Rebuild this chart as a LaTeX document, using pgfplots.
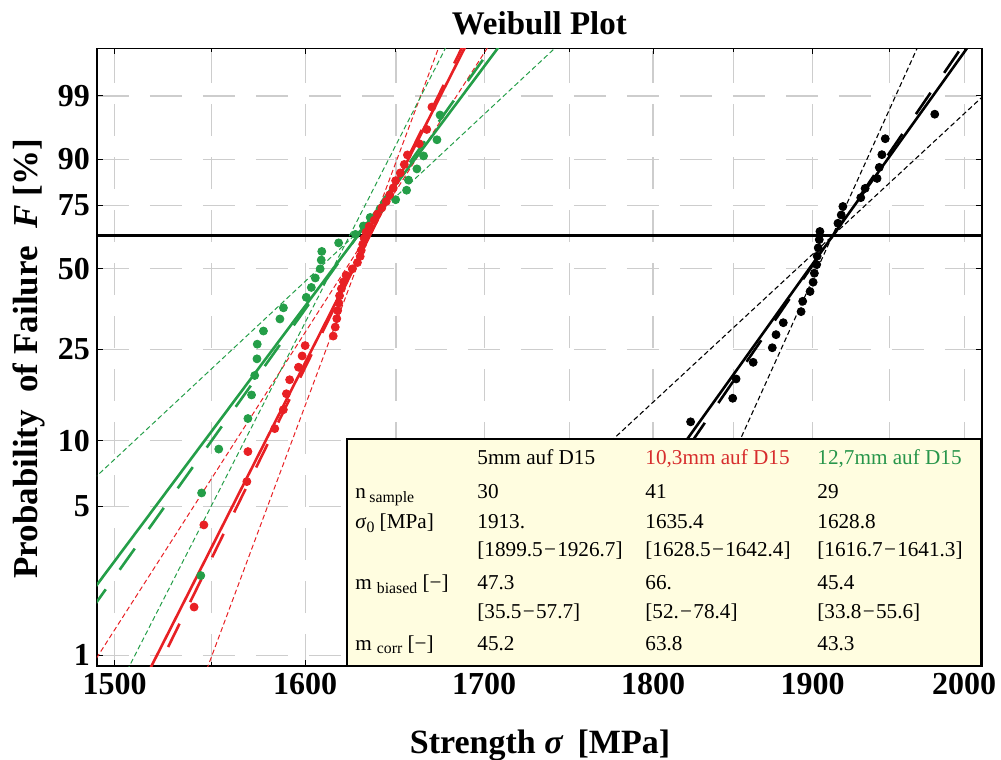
\documentclass[border=0pt]{standalone}
\usepackage{fontspec}
\setmainfont{Liberation Serif}
\usepackage{pgfplots}
\pgfplotsset{compat=1.18}
\usepackage{pgfplotstable}
\definecolor{wred}{RGB}{232,32,36}
\definecolor{wgreen}{RGB}{36,158,72}
\definecolor{tred}{RGB}{215,45,45}
\definecolor{tgreen}{RGB}{40,150,75}
\definecolor{tbg}{RGB}{255,253,224}
\definecolor{gridgray}{RGB}{205,205,205}

% strength [MPa], failure probability F [%]
\pgfplotstableread{
s F
1823.2 12.17
1849.4 15.46
1851.4 18.75
1862.3 22.04
1874.3 25.33
1876.6 28.62
1881.3 31.91
1892.8 35.20
1893.7 38.49
1898.4 41.78
1900.5 45.07
1901.1 48.36
1902.7 51.64
1903.1 54.93
1903.7 58.22
1904.4 61.51
1904.8 64.80
1916.5 68.09
1918.6 71.38
1919.5 74.67
1931.2 77.96
1934.1 81.25
1942.1 84.54
1943.4 87.83
1945.0 91.12
1947.2 94.41
1980.4 97.70
}\blackdata

\pgfplotstableread{
s F
1540.9 1.69
1546.1 4.11
1568.7 6.52
1569.3 8.94
1583.6 11.35
1588.2 13.77
1589.8 16.18
1591.6 18.60
1596.4 21.01
1598.3 23.43
1600.0 25.85
1615.3 28.26
1616.4 30.68
1617.2 33.09
1617.7 35.51
1618.3 37.92
1618.8 40.34
1619.7 42.75
1620.9 45.17
1622.4 47.58
1625.7 50.00
1628.5 52.42
1630.1 54.83
1630.7 57.25
1631.5 59.66
1632.3 62.08
1633.4 64.49
1635.1 66.91
1637.9 69.32
1639.5 71.74
1642.1 74.15
1644.5 76.57
1646.5 78.99
1648.4 81.40
1649.8 83.82
1652.3 86.23
1654.6 88.65
1656.4 91.06
1663.0 93.48
1667.2 95.89
1670.2 98.31
}\reddata

\pgfplotstableread{
s F
1544.4 2.38
1544.9 5.78
1553.9 9.18
1569.3 12.59
1571.3 15.99
1572.9 19.39
1574.1 22.79
1574.2 26.19
1577.6 29.59
1586.4 32.99
1588.3 36.39
1600.6 39.80
1603.3 43.20
1605.5 46.60
1608.2 50.00
1608.7 53.40
1609.0 56.80
1618.2 60.20
1627.4 63.61
1631.9 67.01
1635.6 70.41
1641.2 73.81
1649.8 77.21
1655.9 80.61
1657.0 84.01
1661.7 87.41
1665.4 90.82
1673.0 94.22
1674.9 97.62
}\greendata

\newcommand{\tfont}{\fontsize{10.6}{12.5}\selectfont}
\newcommand{\sfont}{\fontsize{7.9}{9}\selectfont}
\newcommand{\dsh}{\hspace{0.06em}−\hspace{0.06em}}

\begin{document}
\begin{tikzpicture}
\useasboundingbox (-48.35pt,-47pt) rectangle (452.15pt,333pt);
\begin{axis}[
  name=ax,
  at={(0,0)}, anchor=south west,
  width=442.5pt, height=308.85pt, scale only axis,
  xmode=log,
  xmin=1491.1, xmax=2012.0,
  ymin=-4.716, ymax=2.0495,
  xtick={1500,1600,1700,1800,1900,2000},
  xticklabels={1500,1600,1700,1800,1900,2000},
  minor xtick={1550,1650,1750,1850,1950},
  ytick={-4.6002,-2.9702,-2.2504,-1.2459,-0.3665,0.3266,0.8340,1.5272},
  yticklabels={1,5,10,25,50,75,90,99},
  xmajorgrids, xminorgrids, ymajorgrids,
  grid style={gridgray, line width=0.6pt, dash pattern=on 16pt off 10.5pt},
  minor grid style={gridgray, line width=0.6pt, dash pattern=on 16pt off 10.5pt},
  tick align=inside,
  major tick length=3pt, minor tick length=2pt,
  tick style={black, line width=0.5pt},
  axis line style={line width=0.6pt},
  ticklabel style={font=\fontsize{16}{18}\selectfont\bfseries},
  /pgf/number format/assume math mode=true,
  clip=true,
]
% 63.2 % line
\addplot[black, line width=1.65pt] coordinates {(1480,0) (2020,0)};

% confidence bounds (thin dashed)
\addplot[black, line width=0.55pt, dash pattern=on 2.5pt off 1.5pt] coordinates {(1783.8,-5) (1975.5,2.3)};
\addplot[black, line width=0.55pt, dash pattern=on 2.5pt off 1.5pt] coordinates {(1619.3,-5) (2065.4,2.3)};
\addplot[wred, line width=0.5pt, dash pattern=on 2.5pt off 1.5pt] coordinates {(1543.2,-5) (1678.7,2.3)};
\addplot[wred, line width=0.5pt, dash pattern=on 2.5pt off 1.5pt] coordinates {(1480.0,-5) (1710.1,2.3)};
\addplot[wgreen, line width=0.5pt, dash pattern=on 2.5pt off 1.5pt] coordinates {(1378.7,-5) (1755.6,2.3)};
\addplot[wgreen, line width=0.5pt, dash pattern=on 2.5pt off 1.5pt] coordinates {(1500.8,-5) (1684.5,2.3)};

% biased fits (long dashed)
\addplot[black, line width=1.3pt, dash pattern=on 13pt off 12pt] coordinates {(1721.1,-5) (2008.3,2.3)};
\addplot[wred, line width=1.3pt, dash pattern=on 13pt off 12pt] coordinates {(1516.1,-5) (1693.4,2.3)};
\addplot[wgreen, line width=1.3pt, dash pattern=on 13pt off 12pt] coordinates {(1459.0,-5) (1713.4,2.3)};

% corrected fits (solid)
\addplot[black, line width=1.3pt] coordinates {(1712.7,-5) (2012.9,2.3)};
\addplot[wred, line width=1.3pt] coordinates {(1512.1,-5) (1695.4,2.3)};
\addplot[wgreen, line width=1.3pt] coordinates {(1451.2,-5) (1717.7,2.3)};

% data points
\addplot[only marks, mark=*, mark size=2pt, black] table[x=s, y expr={ln(-ln(1-\thisrow{F}/100))}] {\blackdata};
\addplot[only marks, mark=*, mark size=2pt, wgreen] table[x=s, y expr={ln(-ln(1-\thisrow{F}/100))}] {\greendata};
\addplot[only marks, mark=*, mark size=2pt, wred] table[x=s, y expr={ln(-ln(1-\thisrow{F}/100))}] {\reddata};
\end{axis}

% titles and labels
\node[font=\fontsize{16.5}{19}\selectfont\bfseries, anchor=base] at (221.3pt,315.5pt) {Weibull Plot};
\node[font=\fontsize{17}{20}\selectfont\bfseries, anchor=base] at (221.65pt,-43.5pt) {Strength \textit{σ}\, [MPa]};
\node[font=\fontsize{17.5}{20}\selectfont\bfseries, rotate=90, anchor=base] at (-29.35pt,153.75pt) {Probability\ \ of Failure\ \ \textit{F} [\%]};

% parameter table
\fill[tbg] (125.15pt,0pt) rectangle (442.5pt,113.5pt);
\draw[line width=1.4pt] (125.15pt,0pt) rectangle (442.5pt,113.5pt);
\begin{scope}[every node/.style={anchor=base west, inner sep=0pt, font=\tfont}]
\node at (190.15pt,100.5pt) {5mm auf D15};
\node[text=tred] at (274.15pt,100.5pt) {10,3mm auf D15};
\node[text=tgreen] at (360.15pt,100.5pt) {12,7mm auf D15};

\node at (129.15pt,83.85pt) {n\hspace{1.7pt}\raisebox{-2pt}{\sfont sample}};
\node at (190.15pt,83.85pt) {30};
\node at (274.15pt,83.85pt) {41};
\node at (360.15pt,83.85pt) {29};

\node at (129.15pt,68.85pt) {\textit{σ}\raisebox{-2pt}{\sfont 0} [MPa]};
\node at (190.15pt,68.85pt) {1913.};
\node at (274.15pt,68.85pt) {1635.4};
\node at (360.15pt,68.85pt) {1628.8};

\node at (190.15pt,54.65pt) {[1899.5\dsh1926.7]};
\node at (274.15pt,54.65pt) {[1628.5\dsh1642.4]};
\node at (360.15pt,54.65pt) {[1616.7\dsh1641.3]};

\node at (129.15pt,38pt) {m\hspace{2.5pt}\raisebox{-2pt}{\sfont biased} [−]};
\node at (190.15pt,38pt) {47.3};
\node at (274.15pt,38pt) {66.};
\node at (360.15pt,38pt) {45.4};

\node at (190.15pt,23.85pt) {[35.5\dsh57.7]};
\node at (274.15pt,23.85pt) {[52.\dsh78.4]};
\node at (360.15pt,23.85pt) {[33.8\dsh55.6]};

\node at (129.15pt,8pt) {m\hspace{2.5pt}\raisebox{-2pt}{\sfont corr} [−]};
\node at (190.15pt,8pt) {45.2};
\node at (274.15pt,8pt) {63.8};
\node at (360.15pt,8pt) {43.3};
\end{scope}
\end{tikzpicture}
\end{document}
